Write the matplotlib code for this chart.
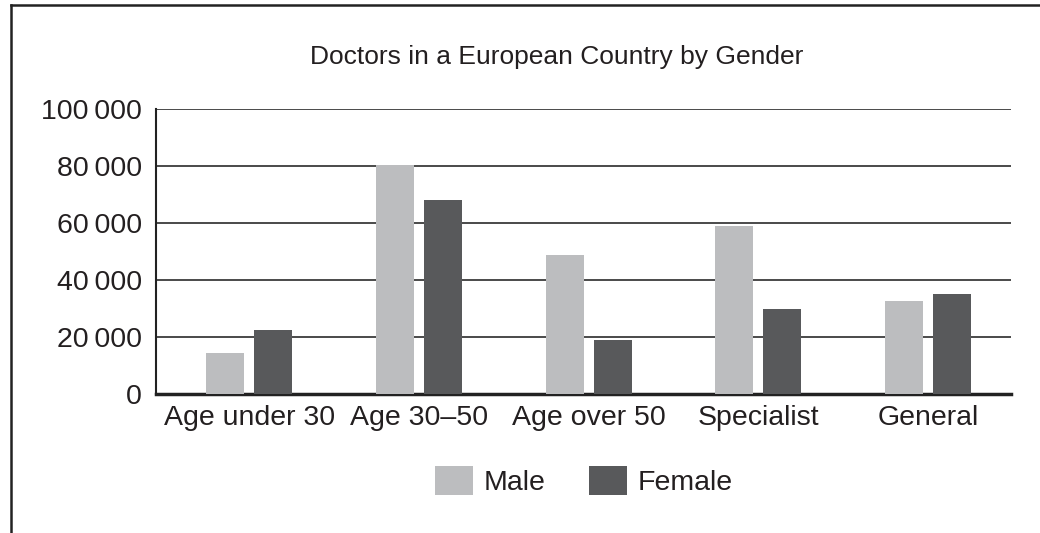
import numpy as np
import matplotlib
matplotlib.use("Agg")
import matplotlib.pyplot as plt
from matplotlib.lines import Line2D
from matplotlib.ticker import FuncFormatter

plt.rcParams["font.family"] = ["Liberation Sans", "DejaVu Sans"]

categories = ["Age under 30", "Age 30\u201350", "Age over 50", "Specialist", "General"]
male = [14500, 80500, 48900, 59000, 32700]
female = [22500, 68200, 19000, 29900, 35100]
yticks = [0, 20000, 40000, 60000, 80000, 100000]

MALE_COLOR = "#bcbdbf"
FEMALE_COLOR = "#58595b"
TEXT_COLOR = "#231f20"
FS = 20.5


def thousands(v, pos):
    return f"{int(v):,}".replace(",", "\u2009")


fig = plt.figure(figsize=(10.4, 5.33), dpi=100)
ax = fig.add_axes([0.15, 0.2608, 0.822, 0.5338])

x = np.arange(len(categories))
w = 0.224
off = 0.1415
ax.bar(x - off, male, w, color=MALE_COLOR, label="Male", zorder=3)
ax.bar(x + off, female, w, color=FEMALE_COLOR, label="Female", zorder=3)

ax.set_xlim(-0.55, 4.49)
ax.set_ylim(0, 100000)
ax.set_yticks(yticks)
ax.yaxis.set_major_formatter(FuncFormatter(thousands))
ax.set_xticks(x)
ax.set_xticklabels(categories)
ax.tick_params(axis="both", length=0, labelsize=FS, colors=TEXT_COLOR)
ax.tick_params(axis="y", pad=10)
ax.tick_params(axis="x", pad=8)

ax.yaxis.grid(True, color="#3c3c3c", linewidth=1.3, zorder=1)
ax.set_axisbelow(True)
for s in ["top", "right"]:
    ax.spines[s].set_visible(False)
ax.spines["left"].set_linewidth(1.5)
ax.spines["left"].set_color("#222222")
ax.spines["bottom"].set_linewidth(2.5)
ax.spines["bottom"].set_color("#222222")

fig.text(0.535, 0.893, "Doctors in a European Country by Gender",
         ha="center", va="center", fontsize=19, color=TEXT_COLOR)

fig.legend(loc="center", bbox_to_anchor=(0.5615, 0.0976), ncol=2,
           frameon=False, fontsize=FS, handlelength=1.33, handleheight=1.23,
           handletextpad=0.39, columnspacing=1.5, labelcolor=TEXT_COLOR)

# outer frame (top and left only)
fig.add_artist(Line2D([0.0106, 1.0], [0.9897, 0.9897], color="#222222", lw=1.8))
fig.add_artist(Line2D([0.0106, 0.0106], [0.0, 0.9897], color="#222222", lw=1.8))

fig.savefig("out.png", dpi=100)
